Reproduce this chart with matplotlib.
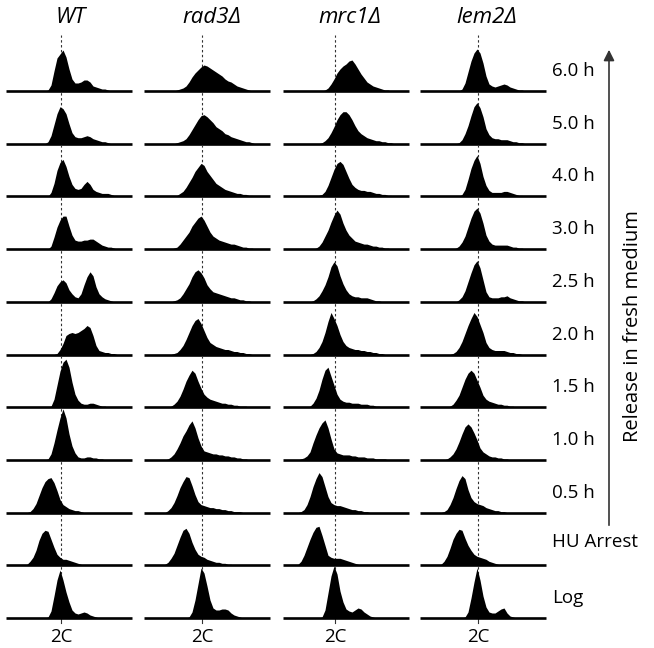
import numpy as np
import matplotlib
matplotlib.use("Agg")
import matplotlib.pyplot as plt
from matplotlib.patches import FancyArrowPatch

plt.rcParams['font.family'] = ['Open Sans', 'DejaVu Sans']

# ---------------- data ----------------
strains = ["WT", "rad3Δ", "mrc1Δ", "lem2Δ"]
timepoints = ["6.0 h", "5.0 h", "4.0 h", "3.0 h", "2.5 h", "2.0 h",
              "1.5 h", "1.0 h", "0.5 h", "HU Arrest", "Log"]
channel = np.arange(15, 112, 3)          # DNA-content channel (33 bins)
two_c_channel = [55, 58, 52, 58]         # 2C position per strain

wt_counts = [
    [0,0,0,0,0,0,0,0,0, 1,6,20,33,37,41,34,22,12,8,8,9,11,11,9,5,4,3,2,2,1,0,0,0],
    [0,0,0,0,0,0,0,0,0, 2,8,19,30,37,35,30,20,11,7,6,6,7,8,7,5,4,3,2,2,1,0,0,0],
    [0,0,0,0,0,0,0,0,0,0, 4,13,26,34,37,30,20,12,8,7,8,12,15,12,7,5,4,3,3,3,2,1,1],
    [0,0,0,0,0,0,0,0,0,0, 3,12,22,29,33,33,23,14,9,8,8,9,9,10,10,8,6,4,3,2,2,1,0],
    [0,0,0,0,0,0,0,0,0,0, 3,9,16,20,22,19,12,8,5,4,8,17,25,30,26,15,8,5,3,2,1,0,0],
    [0,0,0,0,0,0,0,0,0,0,0,0, 1,5,11,19,21,22,21,22,24,26,29,27,19,9,4,3,2,2,1,1,0],
    [0,0,0,0,0,0,0,0,0,0, 1,8,22,36,45,48,40,25,13,7,4,3,3,4,4,3,2,1,1,0,0,0,0],
    [0,0,0,0,0,0,0,0,0, 1,6,17,30,42,51,42,26,14,7,3,2,2,3,3,2,2,1,1,0,0,0,0,0],
    [0,0,0,1,4,9,17,25,31,34,35,30,22,13,8,6,4,3,2,2,1, 0,0,0,0,0,0,0,0,0,0,0,0],
    [0,0,1,4,8,15,25,32,35,34,26,18,11,8,6,6,5,4,3,2,1, 0,0,0,0,0,0,0,0,0,0,0,0],
    [0,0,0,0,0,0,0,0,0, 1,7,22,38,48,38,26,16,8,5,4,5,6,5,3,2,1, 0,0,0,0,0,0,0],
]

rad3_counts = [
    [0,0,0,0,0,0, 1,2,3,5,9,14,18,21,24,26,25,23,21,19,17,15,12,10,9,7,5,4,3,2,1,0,0],
    [0,0,0,0,0,0, 1,2,3,5,9,14,19,24,28,29,27,24,21,17,15,13,10,9,7,6,5,4,3,2,2,1,0],
    [0,0,0,0,0,0, 1,3,5,9,14,19,25,29,33,31,25,21,17,13,11,9,7,6,5,4,3,3,2,2,1,1,0],
    [0,0,0,0,0, 1,2,5,9,13,17,23,27,31,33,29,23,17,13,11,9,8,7,6,5,5,4,3,2,2,1,1,0],
    [0,0,0,0,0, 1,2,4,8,13,18,25,30,32,29,24,17,13,10,9,8,7,6,5,4,4,3,2,2,1,1,0,0],
    [0,0,0,0,0, 1,2,5,9,15,22,29,34,36,31,24,17,12,10,8,7,6,5,5,4,3,3,2,2,1,1,0,0],
    [0,0,0,0, 1,3,6,11,18,26,32,37,34,26,19,13,10,8,7,6,5,4,4,3,3,2,2,1,1,1,0,0,0],
    [0,0,0, 1,3,6,11,17,24,29,35,39,32,22,14,9,8,7,6,6,5,5,4,4,3,3,2,2,1,1,0,0,0],
    [0,0,0, 2,5,10,17,25,31,36,35,27,18,11,8,7,6,5,5,4,4,3,3,2,2,1,1,1,0,0,0,0,0],
    [0,0, 1,3,7,12,20,28,35,37,32,23,16,11,9,8,6,5,4,3,3,2,2,1,1, 0,0,0,0,0,0,0,0],
    [0,0,0,0,0,0,0,0,0,0, 1,6,18,34,50,45,32,18,10,8,8,9,9,8,5,3,2,1, 0,0,0,0,0],
]

mrc1_counts = [
    [0,0,0,0,0,0,0,0,0, 1,3,7,12,18,22,25,27,30,31,27,22,17,13,9,7,5,4,3,2,1,1,0,0],
    [0,0,0,0,0,0,0,0, 1,3,6,11,17,24,29,32,32,29,24,18,13,10,8,6,5,4,3,3,2,2,1,1,0],
    [0,0,0,0,0,0,0, 1,2,5,11,19,27,33,35,32,25,18,12,9,7,6,6,5,5,4,3,3,2,2,1,1,0],
    [0,0,0,0,0,0, 1,3,7,13,19,27,34,39,35,26,19,14,11,8,7,6,5,5,4,3,3,2,2,1,1,0,0],
    [0,0,0,0,0, 1,3,6,11,17,25,35,40,36,26,18,12,8,6,5,5,4,4,4,3,2,1,1, 0,0,0,0,0],
    [0,0,0,0,0, 1,3,7,13,22,33,42,36,29,20,13,9,7,6,5,5,4,4,3,3,2,2,1,1, 0,0,0,0],
    [0,0,0,0, 1,4,9,17,28,37,40,31,22,13,8,6,5,5,4,4,4,3,3,3,2,2,1,1, 0,0,0,0,0],
    [0,1,2,4,8,17,25,32,37,40,32,21,11,7,6,5,5,5,4,4,3,3,3,2,2,2,1,1,1,1,0,0,0],
    [0,1,3,8,16,26,34,40,36,26,16,10,8,7,7,6,5,4,3,3,2,2,1,1, 0,0,0,0,0,0,0,0,0],
    [1,4,10,18,26,33,38,39,30,20,10,8,7,7,7,6,5,4,3,2,1, 0,0,0,0,0,0,0,0,0,0,0,0],
    [0,0,0,0,0,0,0,0, 1,8,25,42,52,44,27,16,9,7,6,8,10,9,6,4,2,1, 0,0,0,0,0,0,0],
]

lem2_counts = [
    [0,0,0,0,0,0,0,0,0, 2,8,19,30,38,42,38,28,15,7,5,4,5,6,7,6,4,3,2,1,1,0,0,0],
    [0,0,0,0,0,0,0,0, 1,4,10,18,28,37,41,36,27,15,9,6,5,5,4,4,4,3,2,2,1,1,0,0,0],
    [0,0,0,0,0,0,0,0,0, 2,7,17,28,36,41,33,20,11,6,4,4,4,4,5,5,4,3,2,1,1,0,0,0],
    [0,0,0,0,0,0,0, 1,3,7,13,22,31,38,41,36,26,14,8,5,4,4,4,4,4,3,2,2,1,1,0,0,0],
    [0,0,0,0,0,0,0,0, 2,5,11,20,29,37,41,34,22,10,5,4,4,4,5,5,6,4,3,2,1,1,0,0,0],
    [0,0,0,0,0,0, 1,3,7,13,21,29,36,42,38,30,22,12,7,5,4,4,4,4,3,2,2,1,1, 0,0,0,0],
    [0,0,0,0,0, 1,3,7,12,20,28,34,37,34,27,20,12,8,6,5,4,3,3,2,2,1,1, 0,0,0,0,0,0],
    [0,0,0,0, 1,3,6,11,18,26,33,36,33,27,20,12,8,6,4,3,3,2,2,1,1, 0,0,0,0,0,0,0,0],
    [0,0,0, 1,3,8,15,24,32,37,34,23,15,11,9,8,7,5,4,3,2,2,1,1, 0,0,0,0,0,0,0,0,0],
    [0,0, 1,4,9,17,26,32,36,35,27,20,15,11,9,8,7,6,4,3,2,1, 0,0,0,0,0,0,0,0,0,0,0],
    [0,0,0,0,0,0,0,0,0,0, 1,6,20,36,50,38,22,11,6,5,5,7,9,10,5,2,1, 0,0,0,0,0,0],
]

all_counts = [wt_counts, rad3_counts, mrc1_counts, lem2_counts]

# ---------------- layout ----------------
W, H = 654, 648
fig = plt.figure(figsize=(W / 100, H / 100), dpi=100)

col_left = [6, 144, 283, 420]
panel_w = 126
first_base = 91
row_step = 52.7
title_x = [65, 68, 67, 67]

for c, counts in enumerate(all_counts):
    for r, row in enumerate(counts):
        base = first_base + row_step * r
        ax = fig.add_axes([col_left[c] / W, (H - base) / H, panel_w / W, row_step / H])
        ax.set_xlim(0, panel_w)
        ax.set_ylim(0, row_step)
        ax.axis('off')
        y = np.asarray(row, dtype=float)
        n = min(len(y), len(channel))
        ax.fill_between(channel[:n], y[:n], 0, color='black', lw=0, zorder=3)
        ax.plot([0, panel_w], [0, 0], color='black', lw=1.9, solid_capstyle='butt',
                zorder=4, clip_on=False)
        top = 56 if r == 0 else row_step
        ax.plot([two_c_channel[c]] * 2, [0, top], color='#333333', lw=0.8,
                dashes=(2.2, 2.2), zorder=1, clip_on=False)
        if r == 0:
            ax.text(title_x[c], 73, strains[c], ha='center', va='center',
                    fontsize=16, style='italic', clip_on=False)
        if r == len(counts) - 1:
            ax.plot([two_c_channel[c]] * 2, [0, -5], color='#333333', lw=0.8,
                    zorder=1, clip_on=False)
            ax.text(two_c_channel[c], -19, "2C", ha='center', va='center',
                    fontsize=13.5, clip_on=False)
        if c == 3:
            dy = 23 if timepoints[r] == "HU Arrest" else 20
            ax.text(132, dy, timepoints[r], ha='left', va='center',
                    fontsize=13.5, clip_on=False)

# arrow and side label
arrow = FancyArrowPatch((609 / W, 1 - 528 / H), (609 / W, 1 - 47 / H),
                        transform=fig.transFigure, arrowstyle='-|>',
                        mutation_scale=16, lw=1.2, color='#333333')
fig.add_artist(arrow)
fig.text(633 / W, 1 - 326 / H, "Release in fresh medium", rotation=90,
         ha='center', va='center', fontsize=14.5)

fig.savefig("out.png", dpi=100)
